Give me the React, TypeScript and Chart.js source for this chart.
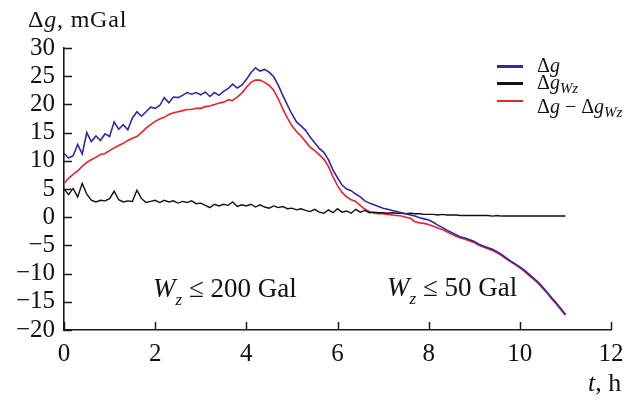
import React, { useEffect, useRef } from "react";
import { Chart, registerables } from "chart.js";

Chart.register(...registerables);

// time axis, hours
const T = [
  0.0, 0.1, 0.2, 0.3, 0.4, 0.5, 0.6, 0.7, 0.8, 0.9,
  1.0, 1.1, 1.2, 1.3, 1.4, 1.5, 1.6, 1.7, 1.8, 1.9,
  2.0, 2.1, 2.2, 2.3, 2.4, 2.5, 2.6, 2.7, 2.8, 2.9,
  3.0, 3.1, 3.2, 3.3, 3.4, 3.5, 3.6, 3.7, 3.8, 3.9,
  4.0, 4.1, 4.2, 4.3, 4.4, 4.5, 4.6, 4.7, 4.8, 4.9,
  5.0, 5.1, 5.2, 5.3, 5.4, 5.5, 5.6, 5.7, 5.8, 5.9,
  6.0, 6.1, 6.2, 6.3, 6.4, 6.5, 6.6, 6.7, 6.8, 6.9,
  7.0, 7.1, 7.2, 7.3, 7.4, 7.5, 7.6, 7.7, 7.8, 7.9,
  8.0, 8.1, 8.2, 8.3, 8.4, 8.5, 8.6, 8.7, 8.8, 8.9,
  9.0, 9.1, 9.2, 9.3, 9.4, 9.5, 9.6, 9.7, 9.8, 9.9,
  10.0, 10.1, 10.2, 10.3, 10.4, 10.5, 10.6, 10.7, 10.8, 10.9,
  11.0,
];

// Δg
const DG = [
  11.3, 10.5, 10.9, 12.9, 11.2, 15.0, 13.4, 14.4, 13.6, 14.8,
  14.3, 16.9, 15.6, 16.4, 15.5, 17.6, 18.7, 17.9, 18.7, 19.5,
  19.3, 19.8, 21.2, 20.3, 21.3, 21.2, 21.6, 22.1, 21.8, 22.1,
  21.7, 22.2, 21.4, 22.1, 21.6, 22.3, 22.8, 23.6, 22.9, 23.4,
  24.4, 25.6, 26.5, 25.9, 26.2, 25.7, 24.9, 23.4, 21.6, 19.9,
  18.3, 16.9, 16.2, 15.4, 14.2, 13.2, 12.2, 11.5, 10.2, 8.4,
  7.0, 5.7, 5.0, 4.7, 4.1, 3.6, 2.9, 2.5, 2.2, 1.9,
  1.6, 1.4, 1.2, 1.0, 0.8, 0.6, 0.4, 0.2, -0.1, -0.3,
  -0.5, -0.9, -1.4, -1.8, -2.3, -2.7, -3.1, -3.5, -3.7, -4.0,
  -4.3, -4.8, -5.1, -5.4, -5.7, -6.1, -6.6, -7.2, -7.8, -8.3,
  -8.8, -9.4, -10.1, -10.8, -11.5, -12.4, -13.3, -14.3, -15.2, -16.2,
  -17.2,
];

// Δg_Wz
const DGW = [
  5.0, 4.0, 5.1, 3.6, 6.0, 4.1, 3.0, 2.7, 3.0, 2.9,
  3.3, 4.6, 3.1, 2.7, 2.9, 2.8, 4.8, 3.3, 2.6, 2.8,
  3.0, 2.6, 3.0, 2.7, 2.9, 2.5, 2.8, 2.6, 2.9, 2.4,
  2.5, 2.1, 1.7, 2.3, 2.0, 2.3, 2.1, 2.7, 1.9, 2.2,
  2.0, 2.3, 1.8, 2.2, 1.8, 1.6, 2.0, 1.7, 1.9, 1.5,
  1.6, 1.3, 1.5, 1.2, 1.0, 1.4, 0.9, 0.7, 1.3, 0.8,
  1.5, 0.9, 1.1, 0.7, 1.4, 0.9, 1.2, 0.8, 0.9, 0.8,
  0.8, 0.7, 0.8, 0.7, 0.7, 0.6, 0.7, 0.6, 0.6, 0.5,
  0.5, 0.5, 0.4, 0.5, 0.4, 0.4, 0.4, 0.3, 0.3, 0.3,
  0.3, 0.3, 0.3, 0.3, 0.2, 0.3, 0.2, 0.2, 0.2, 0.2,
  0.2, 0.2, 0.2, 0.2, 0.2, 0.2, 0.2, 0.2, 0.2, 0.2,
  0.2,
];

// Δg − Δg_Wz
const DGC = [
  6.0, 6.9, 7.6, 8.2, 9.0, 9.7, 10.2, 10.6, 11.1, 11.3,
  11.8, 12.3, 12.7, 13.1, 13.6, 14.0, 14.3, 15.0, 15.8, 16.4,
  17.0, 17.4, 17.7, 18.2, 18.5, 18.7, 18.9, 19.1, 19.1, 19.3,
  19.3, 19.6, 19.7, 20.0, 20.2, 20.4, 20.8, 20.7, 21.3, 22.0,
  23.0, 23.9, 24.3, 24.3, 23.9, 23.4, 22.5, 21.0, 19.2, 17.6,
  16.2, 15.2, 14.4, 13.4, 12.4, 11.8, 11.1, 10.3, 9.0, 7.2,
  5.6, 4.4, 3.6, 3.1, 2.8, 2.1, 1.4, 1.0, 0.7, 0.6,
  0.6, 0.5, 0.4, 0.3, 0.2, 0.0, -0.2, -0.8, -1.0, -1.1,
  -1.3, -1.6, -1.9, -2.2, -2.6, -3.0, -3.4, -3.7, -3.9, -4.2,
  -4.5, -5.0, -5.3, -5.6, -5.9, -6.3, -6.8, -7.4, -7.9, -8.4,
  -9.0, -9.6, -10.3, -11.0, -11.7, -12.6, -13.5, -14.5, -15.4, -16.4,
  -17.4,
];

const X_TICKS = [0, 2, 4, 6, 8, 10, 12];
const Y_TICKS = [-20, -15, -10, -5, 0, 5, 10, 15, 20, 25, 30];

const BLUE = "#3029a3";
const BLACK = "#111111";
const RED = "#e8232a";
const AXIS = "#1a1a1a";
const SERIF = "'Liberation Serif', 'Times New Roman', serif";
const CANVAS_SERIF = "'Liberation Serif', serif";

const pts = (vals: number[]) => vals.map((v, i) => ({ x: T[i], y: v }));

const inwardTicks = {
  id: "inwardTicks",
  afterDraw(chart: any) {
    const { ctx, chartArea, scales } = chart;
    const xs = scales.x;
    const ys = scales.y;
    ctx.save();
    ctx.strokeStyle = AXIS;
    ctx.lineWidth = 1.5;
    ctx.beginPath();
    X_TICKS.forEach((v) => {
      const px = Math.round(xs.getPixelForValue(v)) + 0.5;
      ctx.moveTo(px, chartArea.bottom);
      ctx.lineTo(px, chartArea.bottom - 8);
    });
    Y_TICKS.forEach((v) => {
      const py = Math.round(ys.getPixelForValue(v)) + 0.5;
      ctx.moveTo(chartArea.left, py);
      ctx.lineTo(chartArea.left + 8, py);
    });
    ctx.stroke();
    ctx.restore();
  },
};

function Txt(props: { left: number; baseline: number; size: number; children: any; style?: any }) {
  const top = props.baseline - 0.8375 * props.size;
  return (
    <div
      style={{
        position: "absolute",
        left: props.left,
        top,
        fontFamily: SERIF,
        fontSize: props.size,
        lineHeight: 1,
        whiteSpace: "nowrap",
        color: "#111",
        ...(props.style || {}),
      }}
    >
      {props.children}
    </div>
  );
}

const LegendLine = (props: { top: number; color: string }) => (
  <div
    style={{
      position: "absolute",
      left: 497,
      top: props.top - 1.25,
      width: 26,
      height: 2.5,
      background: props.color,
    }}
  />
);

export default function App() {
  const ref = useRef<HTMLCanvasElement | null>(null);

  useEffect(() => {
    if (!ref.current) return;
    const chart = new Chart(ref.current, {
      type: "line",
      data: {
        datasets: [
          { label: "Δg", data: pts(DG), borderColor: BLUE, borderWidth: 1.6, pointRadius: 0, tension: 0 },
          { label: "ΔgWz", data: pts(DGW), borderColor: BLACK, borderWidth: 1.4, pointRadius: 0, tension: 0 },
          { label: "Δg − ΔgWz", data: pts(DGC), borderColor: RED, borderWidth: 1.6, pointRadius: 0, tension: 0 },
        ],
      },
      options: {
        animation: false,
        responsive: false,
        layout: { padding: { top: 48, right: 24, left: 0, bottom: 0 } },
        plugins: { legend: { display: false }, tooltip: { enabled: false } },
        scales: {
          x: {
            type: "linear",
            min: 0,
            max: 12,
            grid: { display: false, drawTicks: false },
            border: { display: true, color: AXIS, width: 1.6 },
            ticks: {
              stepSize: 2,
              padding: 9,
              autoSkip: false,
              color: "#111",
              maxRotation: 0,
              font: { family: CANVAS_SERIF, size: 25 },
            },
            afterFit: (s: any) => {
              s.height = 71;
            },
          },
          y: {
            type: "linear",
            min: -20,
            max: 30,
            grid: { display: false, drawTicks: false },
            border: { display: true, color: AXIS, width: 1.6 },
            ticks: {
              stepSize: 5,
              padding: 9,
              autoSkip: false,
              color: "#111",
              font: { family: CANVAS_SERIF, size: 25 },
              callback: (v: any) => (Number(v) < 0 ? "\u2212" + Math.abs(Number(v)) : String(v)),
            },
            afterFit: (s: any) => {
              s.width = 64;
            },
          },
        },
      },
      plugins: [inwardTicks],
    });
    let alive = true;
    if ((document as any).fonts && (document as any).fonts.load) {
      (document as any).fonts
        .load('25px "Liberation Serif"')
        .then(() => {
          if (alive) chart.update();
        })
        .catch(() => {});
    }
    return () => {
      alive = false;
      chart.destroy();
    };
  }, []);

  return (
    <div style={{ position: "fixed", left: 0, top: 0, width: 635, height: 401, background: "#fff" }}>
      <canvas ref={ref} width={635} height={401} style={{ display: "block", width: 635, height: 401 }} />
      <Txt left={28} baseline={27} size={24} style={{ letterSpacing: "0.8px" }}>
        Δ<i>g</i>, mGal
      </Txt>
      <Txt left={588} baseline={392} size={26}>
        <i>t</i>, h
      </Txt>
      <Txt left={153} baseline={298} size={27}>
        <i>W</i>
        <sub style={{ fontSize: 17, verticalAlign: "-8px", fontStyle: "italic" }}>z</sub>
        {" ≤ 200 Gal"}
      </Txt>
      <Txt left={387} baseline={297} size={27}>
        <i>W</i>
        <sub style={{ fontSize: 17, verticalAlign: "-8px", fontStyle: "italic" }}>z</sub>
        {" ≤ 50 Gal"}
      </Txt>
      <LegendLine top={66.7} color={BLUE} />
      <LegendLine top={83.3} color={BLACK} />
      <LegendLine top={101} color={RED} />
      <Txt left={537} baseline={72} size={20}>
        Δ<i>g</i>
      </Txt>
      <Txt left={537} baseline={89} size={20}>
        Δ<i>g</i>
        <sub style={{ fontSize: 15, verticalAlign: "-4px", fontStyle: "italic" }}>Wz</sub>
      </Txt>
      <Txt left={537} baseline={113} size={20}>
        Δ<i>g</i> − Δ<i>g</i>
        <sub style={{ fontSize: 15, verticalAlign: "-4px", fontStyle: "italic" }}>Wz</sub>
      </Txt>
    </div>
  );
}
